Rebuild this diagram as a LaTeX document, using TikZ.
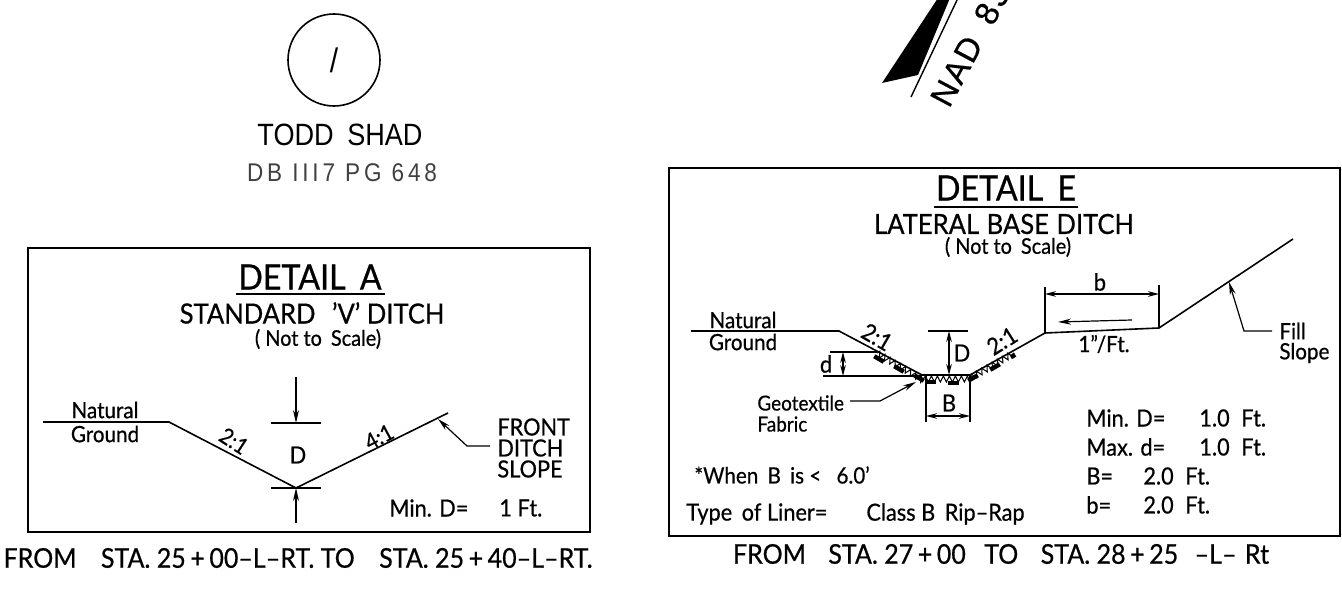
\documentclass[tikz,border=0pt]{standalone}
\usepackage{fontspec}
\setmainfont[FakeStretch=0.92, FakeBold=0.6]{Lato}
\newfontfamily\cadfont[FakeStretch=0.88]{Liberation Sans}
\newfontfamily\caddeed[FakeStretch=0.88, LetterSpace=15]{Liberation Sans}
\newfontfamily\cadnorth[FakeBold=0.5, LetterSpace=6]{Liberation Sans}
\usetikzlibrary{arrows.meta,decorations.pathmorphing}
\tikzstyle{thead} = [font=\fontsize{17.5}{18}\selectfont, inner sep=0pt]
\tikzstyle{tsub} = [font=\fontsize{13.9}{14}\selectfont, inner sep=0pt]
\tikzstyle{tnote} = [font=\fontsize{10.8}{11}\selectfont, inner sep=0pt]
\tikzstyle{small} = [font=\fontsize{11.2}{12}\selectfont, inner sep=0pt]
\tikzstyle{mid} = [font=\fontsize{11.8}{12}\selectfont, inner sep=0pt]
\tikzstyle{from} = [font=\fontsize{13.6}{14}\selectfont, inner sep=0pt]
\tikzstyle{frame} = [draw=black, line width=1.1pt]
\tikzstyle{cut} = [line width=0.8pt, line join=miter]
\tikzstyle{thin} = [line width=0.6pt]
\tikzstyle{arrow} = [line width=0.6pt,-{Stealth[length=6.5pt,width=3pt]}]
\tikzstyle{both} = [line width=0.6pt,{Stealth[length=5.5pt,width=2.8pt]}-{Stealth[length=5.5pt,width=2.8pt]}]
\tikzstyle{pad} = [fill=black, minimum width=5.5pt, minimum height=2.2pt, inner sep=0pt]

\begin{document}
\begin{tikzpicture}[x=0.5pt,y=-0.5pt]

		\useasboundingbox (0,0) rectangle (1342,592);
		\clip (0,0) rectangle (1342,592);

		% top left
		\node (shad) [circle, draw=black, line width=0.8pt, minimum size=46pt, inner sep=0pt, font=\cadfont\fontsize{17}{17}\selectfont] at (334,60) {/};
		\node (todd) [font=\cadfont\fontsize{15.4}{16}\selectfont, inner sep=0pt] at (340,135) {TODD\hspace{3pt} SHAD};
		\node (deed) [font=\caddeed\fontsize{12.8}{14}\selectfont, inner sep=0pt, text=black!75] at (342,173) {DB III7 PG 648};

		% north arrow
		\coordinate (n1) at (882,83);
		\coordinate (n2) at (918,75);
		\coordinate (n3) at (950,-2);
		\coordinate (n4) at (938,-2);
		\coordinate (n5) at (911,97);
		\coordinate (n6) at (958,-2);
		\fill [black] (n1) -- (n2) -- (n3) -- (n4) -- cycle;
		\draw [line width=0.7pt] (n5) -- (n6);
		\node (nad) [font=\cadnorth\fontsize{16.5}{16}\selectfont, inner sep=0pt, rotate=62, anchor=west] at (939,104) {NAD\hspace{4pt} 83};

		% detail A
		\node (boxa) [frame, minimum width=281pt, minimum height=142pt, inner sep=0pt] at (309,390) {};
		\node (heada) [thead] at (310,277) {DETAIL\hspace{3pt} A};
		\coordinate (ula) at (236,294);
		\coordinate (ulb) at (385,294);
		\draw [line width=0.9pt] (ula) -- (ulb);
		\node (suba) [tsub] at (312,313) {STANDARD\hspace{5pt} 'V' DITCH};
		\node (scalea) [tnote] at (318,339) {( Not to\hspace{2pt} Scale)};

		\coordinate (ga) at (43,422);
		\coordinate (gb) at (169,422);
		\coordinate (gc) at (296,488);
		\coordinate (gd) at (448,413);
		\draw [cut] (ga) -- (gb) -- (gc) -- (gd);

		\node (natura) [small] at (105,410) {Natural};
		\node (grounda) [small] at (105,434) {Ground};
		\node (sla) [small, rotate=-33] at (234,441) {2:1};
		\node (slb) [small, rotate=28] at (379,437) {4:1};
		\node (da) [mid] at (298,455) {D};

		\coordinate (ta) at (271,423);
		\coordinate (tb) at (321,423);
		\coordinate (tc) at (271,488);
		\coordinate (td) at (321,488);
		\coordinate (aa) at (296,377);
		\coordinate (ab) at (296,423);
		\coordinate (ac) at (296,523);
		\draw [thin] (ta) -- (tb);
		\draw [thin] (tc) -- (td);
		\draw [arrow] (aa) -- (ab);
		\draw [arrow] (ac) -- (gc);

		\node (fronta) [mid, anchor=west] at (497,427) {FRONT};
		\node (ditcha) [mid, anchor=west] at (497,448) {DITCH};
		\node (slopea) [mid, anchor=west] at (497,469) {SLOPE};
		\coordinate (la) at (490,446);
		\coordinate (lb) at (467,446);
		\coordinate (lc) at (438,419);
		\draw [arrow] (la) -- (lb) -- (lc);

		\node (mina) [mid, anchor=west] at (389,508) {Min. D=};
		\node (mina2) [mid, anchor=west] at (499,508) {1 Ft.};
		\node (froma) [from] at (298,558) {FROM\hspace{9pt} STA. 25\,+\,00--L--RT. TO\hspace{9pt} STA. 25\,+\,40--L--RT.};

		% detail E
		\node (boxe) [frame, minimum width=335.5pt, minimum height=184pt, inner sep=0pt] at (1004.5,352) {};
		\node (heade) [thead] at (1006,188) {DETAIL\hspace{3pt} E};
		\coordinate (ulc) at (934,207);
		\coordinate (uld) at (1078,207);
		\draw [line width=0.9pt] (ulc) -- (uld);
		\node (sube) [tsub] at (1004,224) {LATERAL\hspace{0.5pt} BASE\hspace{0.5pt} DITCH};
		\node (scalee) [tnote] at (1008,247) {( Not to\hspace{2pt} Scale)};

		\coordinate (ea) at (691,331);
		\coordinate (eb) at (839,331);
		\coordinate (ec) at (922,375);
		\coordinate (ed) at (970,375);
		\coordinate (ee) at (1045,333);
		\coordinate (ef) at (1159,328);
		\coordinate (eg) at (1293,239);
		\draw [cut] (ea) -- (eb) -- (ec) -- (ed) -- (ee) -- (ef) -- (eg);

		% rip rap
		\coordinate (ra) at (877,353);
		\coordinate (rb) at (921,379);
		\coordinate (rc) at (969,379);
		\coordinate (rd) at (1014,353);
		\draw [line width=0.5pt, decorate, decoration={zigzag, amplitude=1.5pt, segment length=3pt}] (ra) -- (rb) -- (rc) -- (rd);
		\foreach \x/\y/\r in {879/359/-30, 899/369/-30, 919/378/-30, 930/382/0, 953/383/0, 973/378/30, 995/367/30}
			\node [pad, rotate=\r] at (\x,\y) {};
		\node (padend) [pad, minimum width=2.5pt, rotate=30] at (1013,356) {};

		\node (nature) [small] at (743,320) {Natural};
		\node (grounde) [small] at (743,342) {Ground};
		\node (sle) [mid, rotate=-30] at (877,337) {2:1};
		\node (slf) [mid, rotate=32] at (1002,341) {2:1};

		\coordinate (da1) at (928,331);
		\coordinate (da2) at (968,331);
		\coordinate (da3) at (949,331);
		\coordinate (da4) at (949,375);
		\draw [thin] (da1) -- (da2);
		\draw [both] (da3) -- (da4);
		\node (de) [mid] at (962,353) {D};

		\coordinate (db1) at (823,376);
		\coordinate (db2) at (922,376);
		\coordinate (db3) at (830,352);
		\coordinate (db4) at (877,352);
		\coordinate (db5) at (843,352);
		\coordinate (db6) at (843,376);
		\draw [thin] (db1) -- (db2);
		\draw [thin] (db3) -- (db4);
		\draw [both] (db5) -- (db6);
		\node (dse) [mid] at (826,364) {d};

		\coordinate (bb1) at (926,375);
		\coordinate (bb2) at (926,422);
		\coordinate (bb3) at (970,375);
		\coordinate (bb4) at (970,422);
		\coordinate (bb5) at (926,416);
		\coordinate (bb6) at (970,416);
		\draw [thin] (bb1) -- (bb2);
		\draw [thin] (bb3) -- (bb4);
		\draw [both] (bb5) -- (bb6);
		\node (be) [mid] at (949,403) {B};

		\coordinate (w1) at (1045,287);
		\coordinate (w2) at (1159,285);
		\coordinate (w3) at (1045,294);
		\coordinate (w4) at (1159,294);
		\draw [thin] (w1) -- (ee);
		\draw [thin] (w2) -- (ef);
		\draw [both] (w3) -- (w4);
		\node (bs) [mid] at (1100,282) {b};

		\coordinate (fl1) at (1132,320);
		\coordinate (fl2) at (1058,322);
		\draw [arrow] (fl1) -- (fl2);
		\node (pitch) [small] at (1104,344) {1''/Ft.};

		\coordinate (ft1) at (1272,331);
		\coordinate (ft2) at (1244,331);
		\coordinate (ft3) at (1229,282);
		\draw [arrow] (ft1) -- (ft2) -- (ft3);
		\node (fill) [small, anchor=west] at (1279,331) {Fill};
		\node (slope) [small, anchor=west] at (1279,353) {Slope};

		\coordinate (gt1) at (850,401);
		\coordinate (gt2) at (880,401);
		\coordinate (gt3) at (916,382);
		\draw [arrow] (gt1) -- (gt2) -- (gt3);
		\node (geo) [small, anchor=west, font=\fontsize{10.3}{12}\selectfont] at (757,403) {Geotextile};
		\node (fab) [small, anchor=west, font=\fontsize{10.3}{12}\selectfont] at (757,424) {Fabric};

		\node (mind) [mid, anchor=west] at (1086,418) {Min. D=};
		\node (minv) [mid, anchor=west] at (1199,418) {1.0\hspace{3pt} Ft.};
		\node (maxd) [mid, anchor=west] at (1086,447) {Max. d=};
		\node (maxv) [mid, anchor=west] at (1199,447) {1.0\hspace{3pt} Ft.};
		\node (bbig) [mid, anchor=west] at (1086,476) {B=};
		\node (bbigv) [mid, anchor=west] at (1143,476) {2.0\hspace{3pt} Ft.};
		\node (bsm) [mid, anchor=west] at (1086,505) {b=};
		\node (bsmv) [mid, anchor=west] at (1143,505) {2.0\hspace{3pt} Ft.};

		\node (when) [small, anchor=west] at (694,475) {*When\hspace{2pt} B\hspace{2pt} is <\hspace{5pt} 6.0'};
		\node (liner) [mid, anchor=west] at (686,514) {Type\hspace{2pt} of Liner=};
		\node (rip) [mid, anchor=west] at (866,514) {Class B\hspace{2pt} Rip--Rap};
		\node (frome) [from] at (1001,554) {FROM\hspace{8pt} STA. 27\,+\,00\hspace{6pt} TO\hspace{8pt} STA. 28\,+\,25\hspace{5pt} --L-- \hspace{1pt}Rt};

\end{tikzpicture}
\end{document}
